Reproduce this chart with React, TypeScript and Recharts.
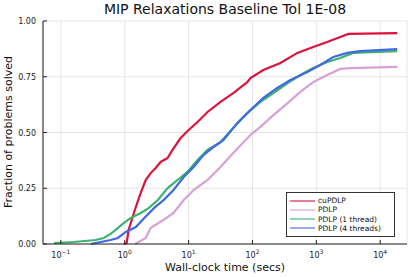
import React from 'react';
import { LineChart, Line, XAxis, YAxis, CartesianGrid } from 'recharts';

const FONT = '"DejaVu Sans", sans-serif';

const seriesNames = ['cuPDLP', 'PDLP', 'PDLP (1 thread)', 'PDLP (4 threads)'];
const seriesColors = ['#DC143C', '#D7A0D7', '#3CB371', '#4169E1'];

const xTicks = [0.1, 1, 10, 100, 1000, 10000];
const yTicks = [0, 0.25, 0.5, 0.75, 1];

// wall-clock time (secs) and fraction solved
const cuTime = [0.965, 1.07, 1.15, 1.33, 1.49, 1.78, 2.13, 2.55, 3.05, 3.65, 4.7, 5.6, 7.5, 10, 13.8, 19.8, 31.6, 50, 83, 93, 148, 274, 505, 893, 1480, 2370, 3170, 18500];
const cuFrac = [0, 0.004, 0.063, 0.121, 0.166, 0.229, 0.287, 0.318, 0.341, 0.368, 0.386, 0.422, 0.475, 0.511, 0.547, 0.592, 0.637, 0.677, 0.726, 0.744, 0.78, 0.812, 0.857, 0.883, 0.906, 0.928, 0.942, 0.946];

const pdlpTime = [1.45, 2.13, 2.55, 2.84, 4.06, 5.8, 8.4, 12, 19.8, 31.6, 50, 93, 133, 213, 355, 562, 893, 1480, 2370, 3390, 18500];
const pdlpFrac = [0, 0.027, 0.072, 0.081, 0.108, 0.139, 0.197, 0.242, 0.287, 0.345, 0.408, 0.489, 0.525, 0.578, 0.632, 0.682, 0.726, 0.758, 0.785, 0.789, 0.794];

const p1Time = [0.078, 0.159, 0.35, 0.47, 0.6, 0.72, 0.93, 1.24, 1.78, 2.37, 3.3, 4.7, 6.7, 9.6, 13.8, 19.8, 31.6, 50, 83, 133, 213, 355, 562, 893, 1480, 2370, 3780, 18500];
const p1Frac = [0.004, 0.009, 0.018, 0.027, 0.045, 0.063, 0.09, 0.117, 0.139, 0.161, 0.197, 0.251, 0.287, 0.323, 0.377, 0.422, 0.457, 0.52, 0.587, 0.637, 0.677, 0.722, 0.758, 0.789, 0.816, 0.834, 0.857, 0.865];

const p4Time = [0.295, 0.42, 0.6, 0.78, 1.04, 1.49, 2.1, 2.95, 4.06, 5.8, 8.4, 12, 17.1, 24.6, 35, 58, 93, 148, 245, 393, 724, 1150, 1850, 3050, 4880, 18500];
const p4Frac = [0, 0.009, 0.018, 0.027, 0.054, 0.076, 0.121, 0.164, 0.197, 0.242, 0.3, 0.345, 0.399, 0.435, 0.466, 0.543, 0.601, 0.655, 0.7, 0.735, 0.771, 0.803, 0.839, 0.857, 0.865, 0.874];

const build = (t: number[], f: number[]) => t.map((x, i) => ({ x, y: f[i] }));
const seriesData = [build(cuTime, cuFrac), build(pdlpTime, pdlpFrac), build(p1Time, p1Frac), build(p4Time, p4Frac)];

const XTick = (props: any) => {
  const { x, y, payload } = props;
  const exp = Math.round(Math.log10(payload.value));
  const expStr = exp < 0 ? '\u2212' + String(-exp) : String(exp);
  return (
    <g>
      <line x1={x} x2={x} y1={y} y2={y - 4} stroke="#222" strokeWidth={1} />
      <text x={x} y={y + 14} textAnchor="middle" fontSize={8} fill="#222" fontFamily={FONT}>
        <tspan>10</tspan>
        <tspan dy={-4} fontSize={6}>{expStr}</tspan>
      </text>
    </g>
  );
};

const YTick = (props: any) => {
  const { x, y, payload } = props;
  return (
    <g>
      <line x1={x} x2={x + 4} y1={y} y2={y} stroke="#222" strokeWidth={1} />
      <text x={x - 7} y={y + 3} textAnchor="end" fontSize={8} fill="#222" fontFamily={FONT}>
        {Number(payload.value).toFixed(2)}
      </text>
    </g>
  );
};

export default function App() {
  return (
    <div style={{ position: 'absolute', left: 0, top: 0, width: 415, height: 277, background: '#fff', fontFamily: FONT }}>
      <LineChart width={415} height={277} margin={{ top: 21, right: 8, bottom: 0, left: 0 }}>
        <CartesianGrid stroke="#e6e6e6" strokeWidth={1} />
        <XAxis
          dataKey="x"
          type="number"
          scale="log"
          domain={[0.0525, 26300]}
          allowDataOverflow
          ticks={xTicks}
          tick={<XTick />}
          tickLine={false}
          tickSize={0}
          tickMargin={0}
          height={33}
          stroke="#222"
          interval={0}
        />
        <YAxis
          type="number"
          domain={[0, 1]}
          ticks={yTicks}
          tick={<YTick />}
          tickLine={false}
          tickSize={0}
          tickMargin={0}
          width={43}
          stroke="#222"
          interval={0}
        />
        {seriesData.map((d, i) => (
          <Line
            key={seriesNames[i]}
            data={d}
            dataKey="y"
            type="linear"
            stroke={seriesColors[i]}
            strokeWidth={2.2}
            dot={false}
            isAnimationActive={false}
          />
        ))}
      </LineChart>
      <div style={{ position: 'absolute', left: 43, width: 364, top: 0, textAlign: 'center', fontSize: 14, lineHeight: '18px', color: '#111' }}>
        MIP Relaxations Baseline Tol 1E-08
      </div>
      <div style={{ position: 'absolute', left: 43, width: 364, top: 261, textAlign: 'center', fontSize: 11, lineHeight: '14px', color: '#111' }}>
        Wall-clock time (secs)
      </div>
      <div style={{ position: 'absolute', left: 9 - 100, top: 132 - 7, width: 200, textAlign: 'center', fontSize: 11, lineHeight: '14px', color: '#111', transform: 'rotate(-90deg)' }}>
        Fraction of problems solved
      </div>
      <div style={{ position: 'absolute', left: 286, top: 192, width: 107, height: 43, border: '1px solid #333', background: '#fff' }}>
        {seriesNames.map((n, i) => (
          <div key={n} style={{ position: 'absolute', left: 3, top: 3 + i * 9.3, height: 9, display: 'flex', alignItems: 'center' }}>
            <div style={{ width: 25, height: 2, background: seriesColors[i], opacity: 0.55 }} />
            <span style={{ marginLeft: 3, fontSize: 7.5, lineHeight: '9px', color: '#111', whiteSpace: 'nowrap' }}>{n}</span>
          </div>
        ))}
      </div>
    </div>
  );
}
